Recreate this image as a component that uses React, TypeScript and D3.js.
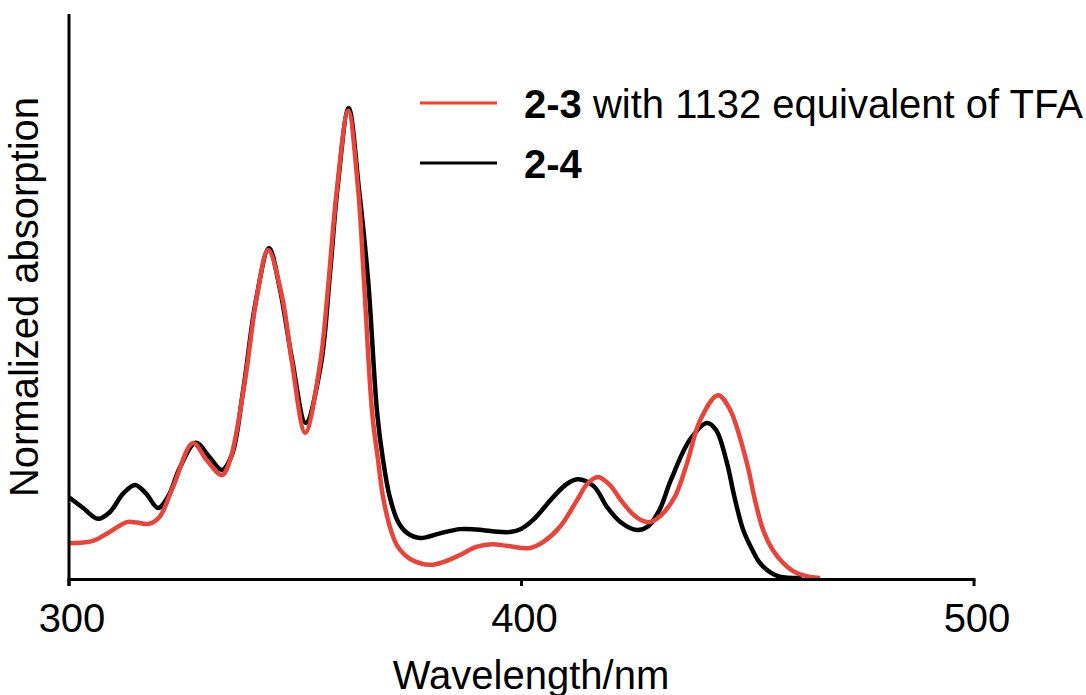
import React from "react";
import * as d3 from "d3";

// 2-4 (black)
const blackX = [300, 303, 306.4, 309, 312, 314.6, 317, 319.7, 322, 324.5, 328, 331, 333.8, 336, 338.5, 341.3, 344.2, 346.5, 349.3, 352.3, 355.6, 357.7, 359.3, 361.8, 364.1, 366.1, 368.1, 369.4, 370.9, 372.7, 374.7, 377.6, 382, 386.4, 390, 394, 397.5, 400, 402.5, 407, 410, 412.5, 416, 418.9, 422, 425.5, 428, 430.5, 433, 437.2, 441, 443, 445.4, 447, 449, 451, 452.7, 455, 457, 462];
const blackY = [0.172, 0.15, 0.126, 0.14, 0.18, 0.198, 0.18, 0.149, 0.175, 0.235, 0.288, 0.258, 0.23, 0.262, 0.4, 0.59, 0.702, 0.62, 0.465, 0.33, 0.45, 0.65, 0.826, 1.0, 0.826, 0.634, 0.351, 0.251, 0.172, 0.12, 0.096, 0.085, 0.095, 0.104, 0.103, 0.099, 0.098, 0.105, 0.123, 0.172, 0.2, 0.21, 0.195, 0.151, 0.118, 0.102, 0.11, 0.145, 0.208, 0.294, 0.33, 0.315, 0.245, 0.175, 0.102, 0.06, 0.032, 0.012, 0.003, 0];

// 2-3 with 1132 equivalent of TFA (red)
const redX = [300, 305.3, 309, 312.8, 315, 317.5, 320, 323, 327.4, 330.5, 333.8, 335.6, 338.9, 341.5, 344, 347.1, 349.3, 352.2, 355.5, 357.2, 359.2, 361.7, 363.9, 365.2, 367, 368.3, 369.4, 371.2, 372.7, 375.5, 379.8, 383, 386.4, 390, 393.5, 397, 401.9, 405, 408.5, 412.3, 414.5, 416.9, 419.5, 422, 424.5, 426.5, 428.4, 431, 434, 436.6, 439.5, 443.4, 446, 449.8, 451.5, 453.4, 455.5, 457.8, 460.5, 463.8, 466];
const redY = [0.074, 0.079, 0.098, 0.119, 0.118, 0.115, 0.13, 0.194, 0.287, 0.25, 0.219, 0.251, 0.421, 0.598, 0.698, 0.598, 0.457, 0.309, 0.457, 0.613, 0.826, 0.994, 0.826, 0.63, 0.351, 0.251, 0.172, 0.1, 0.066, 0.04, 0.028, 0.035, 0.049, 0.066, 0.072, 0.068, 0.064, 0.078, 0.109, 0.166, 0.2, 0.215, 0.198, 0.165, 0.137, 0.123, 0.119, 0.135, 0.175, 0.245, 0.336, 0.389, 0.36, 0.245, 0.17, 0.102, 0.06, 0.032, 0.012, 0.002, 0];

const xTicks = [300, 400, 500];
const xLabel = "Wavelength/nm";
const yLabel = "Normalized absorption";
const legendItems = [
  { bold: "2-3", rest: " with 1132 equivalent of TFA", color: "#FF3B22" },
  { bold: "2-4", rest: "", color: "#000000" },
];

const W = 1086;
const H = 695;

export default function App() {
  const x = d3.scaleLinear().domain([300, 500]).range([69, 974]);
  const y = d3.scaleLinear().domain([0, 1.2]).range([578, 14]);
  const line = d3
    .line<[number, number]>()
    .x((d) => x(d[0]))
    .y((d) => Math.min(y(d[1]), 578))
    .curve(d3.curveCatmullRom.alpha(0.5));
  const black = blackX.map((v, i) => [v, blackY[i]] as [number, number]);
  const red = redX.map((v, i) => [v, redY[i]] as [number, number]);
  const font = "'Liberation Sans', Arial, Helvetica, sans-serif";
  const axisY = 579.5;

  return (
    <svg
      width={W}
      height={H}
      style={{ position: "absolute", left: 0, top: 0, background: "#fff" }}
      fontFamily={font}
    >
      <rect width={W} height={H} fill="#fff" />
      {/* curves */}
      <path d={line(black) || ""} fill="none" stroke="#000" strokeWidth={4.5} strokeLinejoin="round" />
      <path d={line(red) || ""} fill="none" stroke="#E8443A" strokeWidth={4.5} strokeLinejoin="round" />
      {/* axes */}
      <line x1={x(300)} x2={x(300)} y1={14} y2={586} stroke="#000" strokeWidth={3} />
      <line x1={x(300) - 1.5} x2={x(500) + 1.5} y1={axisY} y2={axisY} stroke="#000" strokeWidth={3} />
      {xTicks.map((t) => (
        <g key={t}>
          <line x1={x(t)} x2={x(t)} y1={axisY} y2={586} stroke="#000" strokeWidth={3} />
          <text x={x(t) + 3} y={632} fontSize={40} textAnchor="middle" fill="#000">
            {t}
          </text>
        </g>
      ))}
      <text x={531} y={689} fontSize={40} textAnchor="middle" fill="#000">
        {xLabel}
      </text>
      <text
        transform={`translate(38, 297) rotate(-90)`}
        fontSize={40}
        textAnchor="middle"
        fill="#000"
      >
        {yLabel}
      </text>
      {/* legend */}
      {legendItems.map((it, i) => {
        const ly = 103 + i * 60;
        return (
          <g key={it.bold}>
            <line x1={420} x2={497} y1={ly} y2={ly} stroke={it.color} strokeWidth={3} />
            <text x={524} y={ly + 15} fontSize={40} fill="#000">
              <tspan fontWeight="bold">{it.bold}</tspan>
              {it.rest ? <tspan>{it.rest}</tspan> : null}
            </text>
          </g>
        );
      })}
    </svg>
  );
}
